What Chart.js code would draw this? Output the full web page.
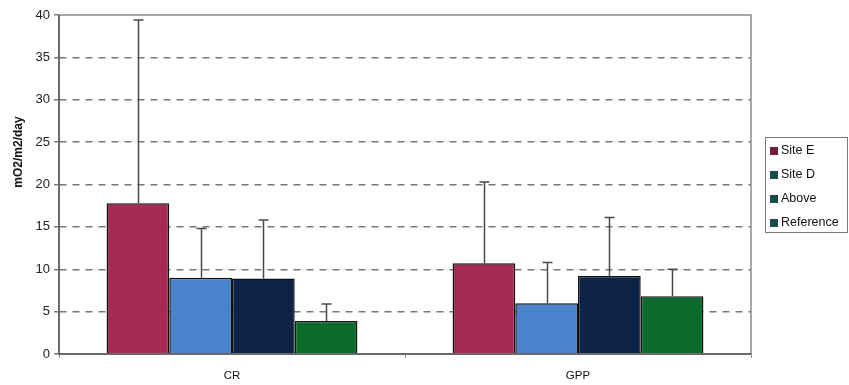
<!DOCTYPE html>
<html>
<head>
<meta charset="utf-8">
<script src="https://cdn.jsdelivr.net/npm/chart.js@4.4.1/dist/chart.umd.min.js"></script>
<style>
  html, body { margin: 0; padding: 0; background: #ffffff; }
  #wrap { width: 849px; height: 385px; position: relative; }
</style>
</head>
<body>
<div id="wrap"><canvas id="c" width="849" height="385"></canvas></div>
<script>
// Categories and series (mean rate, upper end of error bar)
const categories = ['CR', 'GPP'];
const seriesNames = ['Site E', 'Site D', 'Above', 'Reference'];
const siteE = [17.8, 10.7];
const siteD = [9.0, 6.0];
const above = [8.9, 9.2];
const reference = [3.9, 6.8];
const siteEErr = [39.4, 20.3];
const siteDErr = [14.8, 10.8];
const aboveErr = [15.8, 16.1];
const referenceErr = [5.9, 10.0];
const yTicks = [0, 5, 10, 15, 20, 25, 30, 35, 40];

const barColors = ['#a52a55', '#4a82cc', '#0d2448', '#0a6b2c'];
const legendColors = ['#6e2038', '#1d4b4d', '#1d4b4d', '#1d4b4d'];

const values = [siteE, siteD, above, reference];
const errors = [siteEErr, siteDErr, aboveErr, referenceErr];

const datasets = seriesNames.map((name, i) => ({
  label: name,
  data: values[i],
  errTop: errors[i],
  backgroundColor: barColors[i],
  borderColor: '#111111',
  borderWidth: 1.5,
  borderSkipped: 'bottom',
  categoryPercentage: 0.725,
  barPercentage: 1.0
}));

// Upper error bars, plot frame, axis lines, axis title and legend box
const extras = {
  id: 'extras',
  afterDatasetsDraw(chart) {
    const ctx = chart.ctx;
    const y = chart.scales.y;
    ctx.save();
    ctx.strokeStyle = '#4a4a4a';
    ctx.lineWidth = 1.5;
    chart.data.datasets.forEach((ds, di) => {
      const meta = chart.getDatasetMeta(di);
      meta.data.forEach((bar, j) => {
        const top = y.getPixelForValue(ds.errTop[j]);
        const x = Math.round(bar.x) + 0.5;
        ctx.beginPath();
        ctx.moveTo(x, bar.y);
        ctx.lineTo(x, top);
        ctx.moveTo(x - 5, top);
        ctx.lineTo(x + 5, top);
        ctx.stroke();
      });
    });
    ctx.restore();
  },
  afterDraw(chart) {
    const ctx = chart.ctx;
    const a = chart.chartArea;
    ctx.save();
    // plot frame: light top/right, darker left/bottom axes
    ctx.setLineDash([]);
    ctx.strokeStyle = '#8a8a8a';
    ctx.lineWidth = 1.5;
    ctx.beginPath();
    ctx.moveTo(a.left, a.top);
    ctx.lineTo(a.right, a.top);
    ctx.lineTo(a.right, a.bottom);
    ctx.stroke();
    ctx.strokeStyle = '#6a6a6a';
    ctx.lineWidth = 2;
    ctx.beginPath();
    ctx.moveTo(a.left, a.top);
    ctx.lineTo(a.left, a.bottom);
    ctx.lineTo(a.right, a.bottom);
    ctx.stroke();

    // y axis title
    ctx.fillStyle = '#111111';
    ctx.font = 'bold 12px "Liberation Sans", Arial, sans-serif';
    ctx.translate(19, 152);
    ctx.rotate(-Math.PI / 2);
    ctx.textAlign = 'center';
    ctx.textBaseline = 'middle';
    ctx.fillText('mO2/m2/day', 0, 0);
    ctx.restore();

    // legend box
    ctx.save();
    const lx = 765, ly = 137, lw = 82, lh = 95;
    ctx.strokeStyle = '#7a7a7a';
    ctx.lineWidth = 1;
    ctx.strokeRect(lx + 0.5, ly + 0.5, lw, lh);
    ctx.font = '12.5px "Liberation Sans", Arial, sans-serif';
    ctx.textBaseline = 'middle';
    ctx.textAlign = 'left';
    chart.data.datasets.forEach((ds, i) => {
      const cy = 151 + i * 24;
      ctx.fillStyle = legendColors[i];
      ctx.fillRect(lx + 5, cy - 4, 8, 8);
      ctx.fillStyle = '#111111';
      ctx.fillText(ds.label, lx + 16, cy);
    });
    ctx.restore();
  }
};

new Chart(document.getElementById('c'), {
  type: 'bar',
  data: { labels: categories, datasets },
  plugins: [extras],
  options: {
    responsive: false,
    animation: false,
    devicePixelRatio: 1,
    layout: { padding: { left: 0, right: 98, top: 15, bottom: 0 } },
    plugins: { legend: { display: false }, tooltip: { enabled: false } },
    scales: {
      x: {
        offset: true,
        grid: {
          offset: true,
          drawOnChartArea: false,
          color: '#8a8a8a',
          tickLength: 4,
          lineWidth: 1
        },
        border: { color: '#8a8a8a', width: 1.5 },
        ticks: {
          color: '#111111',
          padding: 11,
          font: { family: '"Liberation Sans", Arial, sans-serif', size: 11.5 }
        },
        afterFit(scale) { scale.height = 31; }
      },
      y: {
        min: 0,
        max: 40,
        afterBuildTicks(scale) { scale.ticks = yTicks.map(v => ({ value: v })); },
        grid: {
          color: (c) => (c.tick && (c.tick.value === 0 || c.tick.value === 40)) ? 'rgba(0,0,0,0)' : '#777777',
          tickBorderDash: [],
          tickColor: '#7a7a7a',
          tickLength: 5,
          lineWidth: 1.5
        },
        border: { color: '#8a8a8a', width: 1.5, dash: [7, 6] },
        ticks: {
          color: '#222222',
          padding: 4,
          font: { family: '"Liberation Sans", Arial, sans-serif', size: 13 }
        },
        afterFit(scale) { scale.width = 59; }
      }
    }
  }
});
</script>
</body>
</html>
